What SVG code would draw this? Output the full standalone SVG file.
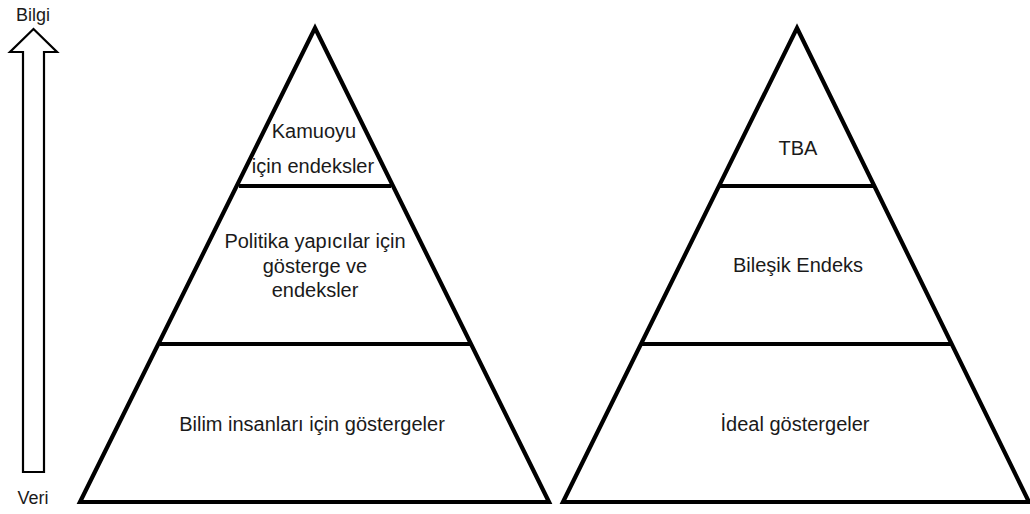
<svg xmlns="http://www.w3.org/2000/svg" width="1030" height="514" viewBox="0 0 1030 514">
  <style>
    .edge { fill: none; stroke: #000; stroke-width: 4.2; stroke-linejoin: miter; }
    .div { stroke: #000; stroke-width: 4.2; }
    .lbl { font-family: "Liberation Sans", Arial, sans-serif; font-size: 20px; fill: #1a1a1a; text-anchor: middle; }
    .axis { font-family: "Liberation Sans", Arial, sans-serif; font-size: 18px; fill: #1a1a1a; text-anchor: middle; }
  </style>
  <rect width="1030" height="514" fill="#fff"/>
  <g id="axis-arrow">
    <polygon points="33.5,29 57,52 44,52 44,472 23,472 23,52 10,52" fill="#fff" stroke="#000" stroke-width="2.2"/>
    <text class="axis" x="33" y="21">Bilgi</text>
    <text class="axis" x="33" y="504">Veri</text>
  </g>
  <g id="connectors">
    <line class="div" x1="239" y1="186" x2="391" y2="186"/>
    <line class="div" x1="160" y1="344" x2="471" y2="344"/>
    <line class="div" x1="720" y1="186" x2="874" y2="186"/>
    <line class="div" x1="641" y1="344" x2="952" y2="344"/>
  </g>
  <g id="pyramid-left">
    <polygon class="edge" points="315,28 549,502 80,502"/>
  </g>
  <g id="left-top">
    <text class="lbl" x="314" y="138">Kamuoyu</text>
    <text class="lbl" x="313" y="173">için endeksler</text>
  </g>
  <g id="left-middle">
    <text class="lbl" x="315" y="248">Politika  yapıcılar için</text>
    <text class="lbl" x="315" y="272.5">gösterge ve</text>
    <text class="lbl" x="315" y="297">endeksler</text>
  </g>
  <g id="left-bottom">
    <text class="lbl" x="312" y="431">Bilim insanları için göstergeler</text>
  </g>
  <g id="pyramid-right">
    <polygon class="edge" points="797,28 1029,502 563,502"/>
  </g>
  <g id="right-top">
    <text class="lbl" x="798" y="155">TBA</text>
  </g>
  <g id="right-middle">
    <text class="lbl" x="798" y="272">Bileşik Endeks</text>
  </g>
  <g id="right-bottom">
    <text class="lbl" x="795" y="431">İdeal göstergeler</text>
  </g>
</svg>
